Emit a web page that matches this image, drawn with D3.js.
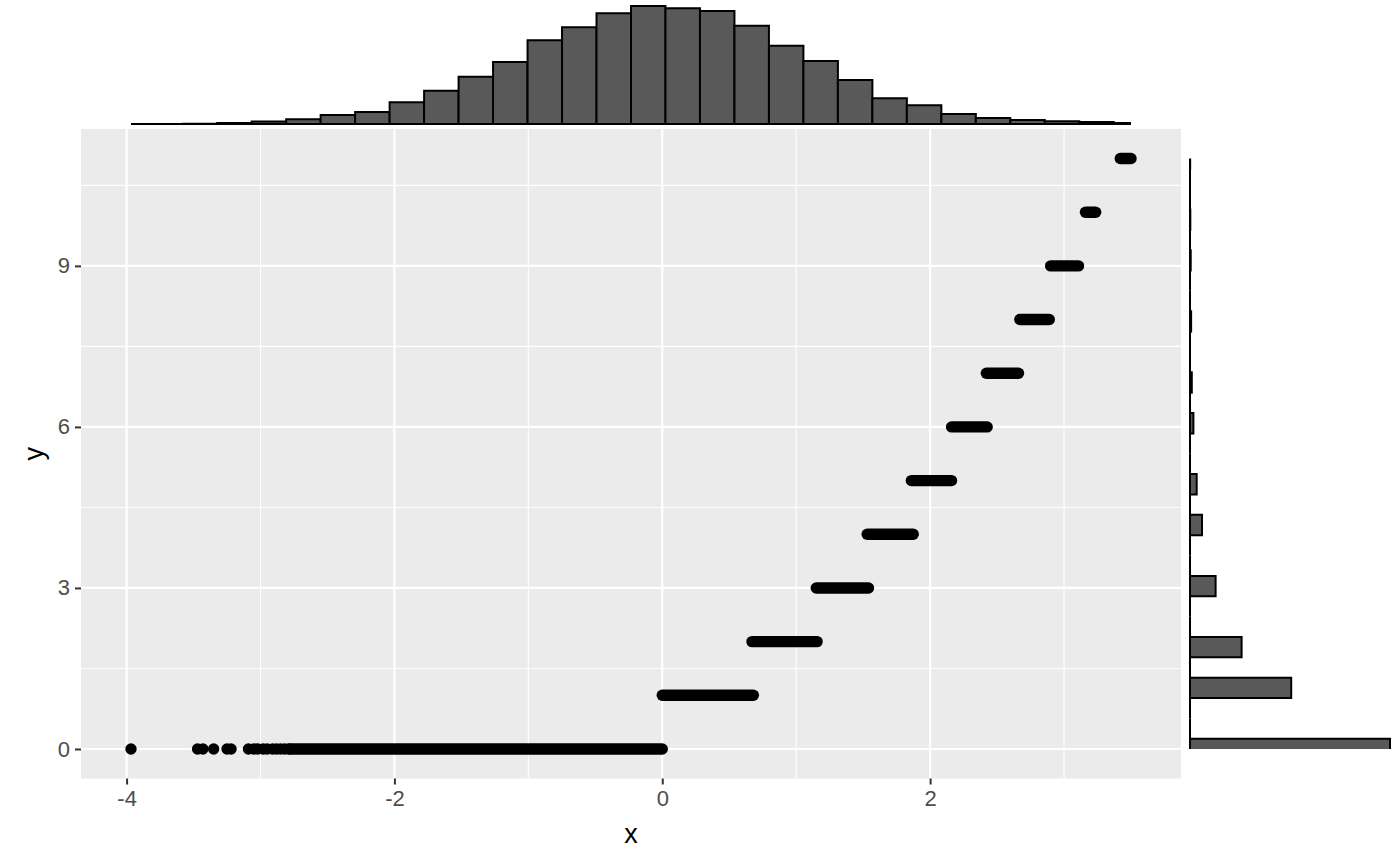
<!DOCTYPE html>
<html>
<head>
<meta charset="utf-8">
<script src="https://cdn.jsdelivr.net/npm/d3@7"></script>
<style>
  html, body { margin: 0; padding: 0; background: #fff; }
  svg { display: block; font-family: "Liberation Sans", Arial, sans-serif; }
</style>
</head>
<body>
<div id="chart"></div>
<script>
// data range of the scatter
var xExtent = [-3.967, 3.50]
var yExtent = [0, 11]

// ticks
var xTicksMajor = [-4, -2, 0, 2]
var xTicksMinor = [-3, -1, 1, 3]
var yTicksMajor = [0, 3, 6, 9]
var yTicksMinor = [1.5, 4.5, 7.5, 10.5]

// single points that stand apart (y = 0)
var loneX = [-3.967, -3.47, -3.43, -3.35, -3.25, -3.22, -3.09, -3.05, -3.02, -2.98,
  -2.95, -2.91, -2.88, -2.85, -2.82, -2.79]
var loneY = loneX.map(function () { return 0 })

// runs of overlapping points, one per y level
var runY = [0, 1, 2, 3, 4, 5, 6, 7, 8, 9, 10, 11]
var runFrom = [-2.78, 0.0, 0.67, 1.15, 1.53, 1.86, 2.16, 2.42, 2.67, 2.90, 3.16, 3.42]
var runTo = [0.0, 0.68, 1.156, 1.54, 1.874, 2.16, 2.426, 2.66, 2.89, 3.108, 3.236, 3.50]

// marginal histograms, 30 bins each over the data range
var xBinCounts = [1, 0, 3, 8, 22, 40, 76, 101, 183, 280, 398, 522, 705, 814, 932,
  994, 974, 951, 828, 659, 530, 370, 216, 157, 84, 51, 34, 23, 17, 8]
var yBinCounts = [5000, 0, 0, 2530, 0, 1290, 0, 0, 640, 0, 0, 300, 0, 167, 0,
  0, 85, 0, 45, 0, 0, 28, 0, 0, 18, 0, 8, 0, 0, 4]

var width = 1400
var height = 866

var panel = { left: 81, right: 1181, top: 129, bottom: 778.5 }
var topHist = { top: 0, bottom: 124 }
var rightHist = { left: 1190, right: 1400 }

function expand (ext) {
  var pad = (ext[1] - ext[0]) * 0.05
  return [ext[0] - pad, ext[1] + pad]
}

// closed path, so empty bins still show their outline
function box (x0, y0, x1, y1) {
  return 'M' + x0 + ',' + y0 + 'H' + x1 + 'V' + y1 + 'H' + x0 + 'Z'
}

var svg = d3.select('#chart').append('svg')
  .attr('width', width)
  .attr('height', height)

var x = d3.scaleLinear().domain(expand(xExtent)).range([panel.left, panel.right])
var y = d3.scaleLinear().domain(expand(yExtent)).range([panel.bottom, panel.top])

// panel background and grid
svg.append('rect')
  .attr('x', panel.left).attr('y', panel.top)
  .attr('width', panel.right - panel.left)
  .attr('height', panel.bottom - panel.top)
  .attr('fill', '#EBEBEB')

var grid = svg.append('g')
grid.selectAll('line.xminor').data(xTicksMinor).enter().append('line')
  .attr('x1', x).attr('x2', x)
  .attr('y1', panel.top).attr('y2', panel.bottom)
  .attr('stroke', '#fff').attr('stroke-width', 1.1)
grid.selectAll('line.yminor').data(yTicksMinor).enter().append('line')
  .attr('y1', y).attr('y2', y)
  .attr('x1', panel.left).attr('x2', panel.right)
  .attr('stroke', '#fff').attr('stroke-width', 1.1)
grid.selectAll('line.xmajor').data(xTicksMajor).enter().append('line')
  .attr('x1', x).attr('x2', x)
  .attr('y1', panel.top).attr('y2', panel.bottom)
  .attr('stroke', '#fff').attr('stroke-width', 2.2)
grid.selectAll('line.ymajor').data(yTicksMajor).enter().append('line')
  .attr('y1', y).attr('y2', y)
  .attr('x1', panel.left).attr('x2', panel.right)
  .attr('stroke', '#fff').attr('stroke-width', 2.2)

// axes
var xAxis = svg.append('g')
  .attr('transform', 'translate(0,' + panel.bottom + ')')
  .call(d3.axisBottom(x).tickValues(xTicksMajor).tickSize(6).tickPadding(6)
    .tickFormat(d3.format('d')))
var yAxis = svg.append('g')
  .attr('transform', 'translate(' + panel.left + ',0)')
  .call(d3.axisLeft(y).tickValues(yTicksMajor).tickSize(6).tickPadding(5)
    .tickFormat(d3.format('d')))

;[xAxis, yAxis].forEach(function (ax) {
  ax.select('.domain').remove()
  ax.selectAll('.tick line').attr('stroke', '#333333').attr('stroke-width', 2)
  ax.selectAll('.tick text')
    .attr('fill', '#4D4D4D')
    .style('font-size', '22px')
    .style('font-family', '"Liberation Sans", Arial, sans-serif')
})
// plain hyphen as in the original labels
xAxis.selectAll('.tick text').text(function (d) { return String(d) })

svg.append('text')
  .attr('x', (panel.left + panel.right) / 2)
  .attr('y', 843)
  .attr('text-anchor', 'middle')
  .style('font-size', '27px')
  .attr('fill', '#000')
  .text('x')

svg.append('text')
  .attr('transform', 'translate(43,' + (panel.top + panel.bottom) / 2 + ') rotate(-90)')
  .attr('text-anchor', 'middle')
  .style('font-size', '27px')
  .attr('fill', '#000')
  .text('y')

// points
var r = 5.7
var pts = svg.append('g')
pts.selectAll('line.run').data(runY).enter().append('line')
  .attr('x1', function (d, i) { return x(runFrom[i]) })
  .attr('x2', function (d, i) { return x(runTo[i]) })
  .attr('y1', function (d) { return y(d) })
  .attr('y2', function (d) { return y(d) })
  .attr('stroke', '#000')
  .attr('stroke-width', 2 * r)
  .attr('stroke-linecap', 'round')
pts.selectAll('circle').data(loneX).enter().append('circle')
  .attr('cx', function (d) { return x(d) })
  .attr('cy', function (d, i) { return y(loneY[i]) })
  .attr('r', r)
  .attr('fill', '#000')

// top marginal histogram
var xw = (xExtent[1] - xExtent[0]) / (xBinCounts.length - 1)
var hTop = d3.scaleLinear()
  .domain([0, d3.max(xBinCounts) * 1.05])
  .range([topHist.bottom, topHist.top])

svg.append('clipPath').attr('id', 'clipTop')
  .append('rect')
  .attr('x', x(xExtent[0])).attr('y', 0)
  .attr('width', x(xExtent[1]) - x(xExtent[0]))
  .attr('height', topHist.bottom + 2)

svg.append('g').attr('clip-path', 'url(#clipTop)')
  .selectAll('path').data(xBinCounts).enter().append('path')
  .attr('d', function (d, i) {
    return box(x(xExtent[0] + (i - 0.5) * xw), hTop(0), x(xExtent[0] + (i + 0.5) * xw), hTop(d))
  })
  .attr('fill', '#595959')
  .attr('stroke', '#000')
  .attr('stroke-width', 2)

// right marginal histogram
var yw = (yExtent[1] - yExtent[0]) / (yBinCounts.length - 1)
var wRight = d3.scaleLinear()
  .domain([0, d3.max(yBinCounts) * 1.05])
  .range([rightHist.left, rightHist.right])

svg.append('clipPath').attr('id', 'clipRight')
  .append('rect')
  .attr('x', rightHist.left - 2).attr('y', y(yExtent[1]))
  .attr('width', rightHist.right - rightHist.left + 2)
  .attr('height', y(yExtent[0]) - y(yExtent[1]))

svg.append('g').attr('clip-path', 'url(#clipRight)')
  .selectAll('path').data(yBinCounts).enter().append('path')
  .attr('d', function (d, i) {
    return box(wRight(0), y(yExtent[0] + (i - 0.5) * yw), wRight(d), y(yExtent[0] + (i + 0.5) * yw))
  })
  .attr('fill', '#595959')
  .attr('stroke', '#000')
  .attr('stroke-width', 2)
</script>
</body>
</html>
